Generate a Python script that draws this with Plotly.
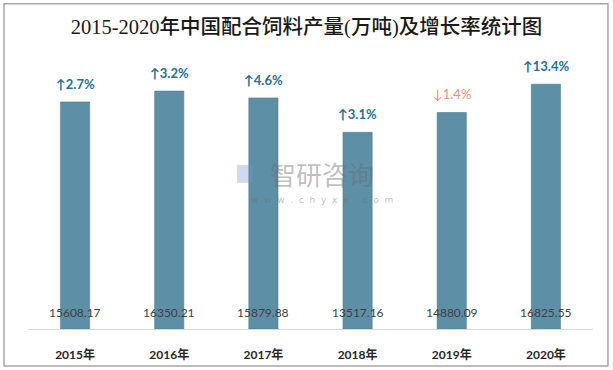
import plotly.graph_objects as go

years = ["2015年", "2016年", "2017年", "2018年", "2019年", "2020年"]
output = [15608.17, 16350.21, 15879.88, 13517.16, 14880.09, 16825.55]
growth = [2.7, 3.2, 4.6, 3.1, -1.4, 13.4]

BAR = "#5D8FA7"
UP = "#1F6F98"
DOWN = "#F0906E"

fig = go.Figure()
fig.add_trace(go.Bar(
    x=years, y=output, width=0.31,
    marker=dict(color=BAR, line=dict(color="#4F7E95", width=0.6)),
    hoverinfo="x+y",
))

ann = []
for x, v, g in zip(years, output, growth):
    up = g >= 0
    ann.append(dict(
        x=x, y=v, xref="x", yref="y", yanchor="bottom", yshift=8,
        text=("<b>↑" + f"{g:.1f}%</b>") if up else ("↓" + f"{abs(g):.1f}%"),
        showarrow=False,
        font=dict(family="Lato, DejaVu Sans", size=13, color=UP if up else DOWN),
    ))
    ann.append(dict(
        x=x, y=0, xref="x", yref="y", yanchor="bottom", yshift=7,
        text=f"{v:.2f}", showarrow=False,
        font=dict(family="Lato, DejaVu Sans", size=12, color="#404040"),
    ))

# watermark
ann.append(dict(x=0.52, y=0.535, xref="paper", yref="paper", text="智研咨询",
                showarrow=False, font=dict(family="Noto Sans CJK SC", size=26, color="rgba(110,110,110,0.45)")))
ann.append(dict(x=0.52, y=0.443, xref="paper", yref="paper", text="w  w  w  .  c  h  y  x  x  .  c  o  m",
                showarrow=False, font=dict(family="DejaVu Sans", size=9, color="rgba(110,110,110,0.45)")))

fig.update_layout(
    width=613, height=370,
    margin=dict(l=28, r=20, t=38, b=41, autoexpand=False),
    paper_bgcolor="white", plot_bgcolor="white",
    showlegend=False,
    title=dict(text="2015-2020年中国配合饲料产量(万吨)及增长率统计图",
               x=0.5, xanchor="center", y=0.927, yanchor="middle",
               font=dict(family="Liberation Serif, Noto Sans CJK SC", size=20.5, color="#1a1a1a", weight=500)),
    xaxis=dict(showline=True, linecolor="#D9D9D9", linewidth=1, ticks="",
               tickfont=dict(family="Lato, Noto Sans CJK SC", size=12, color="#262626", weight="bold"),
               ticklabelstandoff=15, showgrid=False, automargin=False),
    yaxis=dict(range=[0, 20000], visible=False, showgrid=False, zeroline=False),
    annotations=ann,
    shapes=[
        dict(type="rect", xref="paper", yref="paper", x0=-0.0425, x1=1.0265, y0=-0.127, y1=1.118,
             line=dict(color="#A6A6A6", width=1.5), fillcolor="rgba(0,0,0,0)", layer="above"),
        dict(type="rect", xref="paper", yref="paper", x0=0.37, x1=0.398, y0=0.502, y1=0.564,
             line=dict(width=0), fillcolor="rgba(120,150,200,0.35)", layer="above"),
    ],
)

fig.write_html("out.html", config={"displayModeBar": False},
               post_script="document.body.style.margin='0';")
